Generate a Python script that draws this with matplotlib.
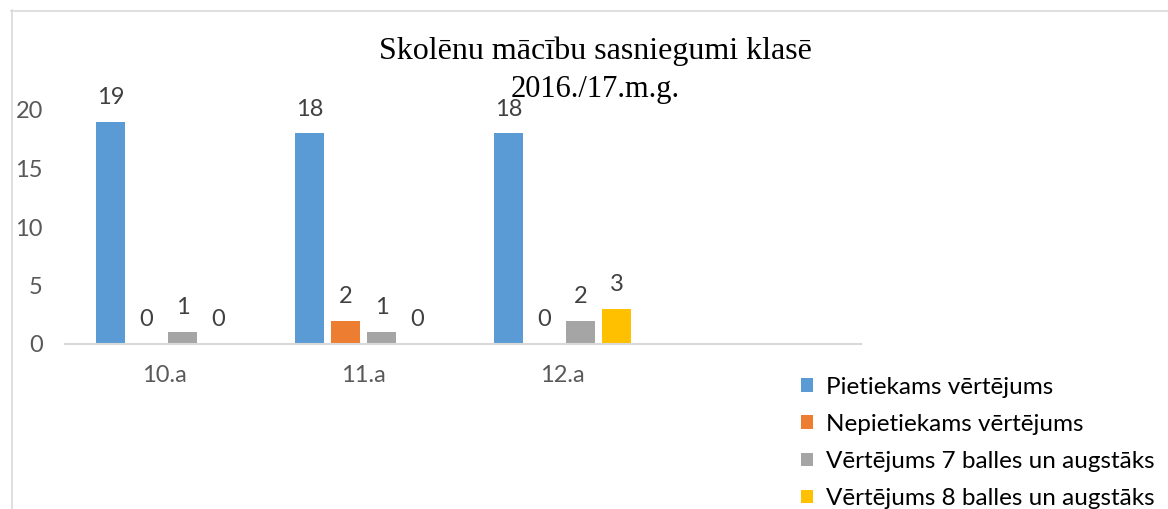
import matplotlib
matplotlib.use("Agg")
import matplotlib.pyplot as plt
from matplotlib.lines import Line2D
import numpy as np

categories = ["10.a", "11.a", "12.a", ""]
series_names = ["Pietiekams vērtējums", "Nepietiekams vērtējums",
                "Vērtējums 7 balles un augstāks", "Vērtējums 8 balles un augstāks"]
pietiekams = [19, 18, 18]
nepietiekams = [0, 2, 0]
vert7 = [1, 1, 2]
vert8 = [0, 0, 3]
colors = ["#5B9BD5", "#ED7D31", "#A5A5A5", "#FFC000"]
y_ticks = [0, 5, 10, 15, 20]
title_line1 = "Skolēnu mācību sasniegumi klasē"
title_line2 = "2016./17.m.g."

W, H = 1168, 509
fig = plt.figure(figsize=(W / 100, H / 100), dpi=100)
fig.patch.set_facecolor("white")

def fx(px):
    return px / W

def fy(py):
    return 1 - py / H

ax = fig.add_axes([fx(65), fy(344), fx(861) - fx(65), fy(110) - fy(344)])

sans = ["Lato", "DejaVu Sans"]
series = [pietiekams, nepietiekams, vert7, vert8]
slot = 0.181
bw = 0.146
x = np.arange(len(pietiekams))
handles = []
for i, (vals, col, name) in enumerate(zip(series, colors, series_names)):
    bars = ax.bar(x + (i - 1.5) * slot, vals, width=bw, color=col, label=name, zorder=2)
    ax.bar_label(bars, labels=[str(v) for v in vals], padding=10,
                 fontsize=17, color="#404040", family=sans)
    handles.append(bars)

ax.set_xlim(-0.5, 3.5)
ax.set_ylim(0, 20)
ax.set_xticks(range(len(categories)))
ax.set_xticklabels(categories)
ax.set_yticks(y_ticks)
for spine in ["top", "right", "left"]:
    ax.spines[spine].set_visible(False)
ax.spines["bottom"].set_color("#D9D9D9")
ax.spines["bottom"].set_linewidth(1.5)
ax.tick_params(axis="both", length=0, labelsize=17, labelcolor="#595959")
ax.tick_params(axis="y", pad=16)
ax.tick_params(axis="x", pad=15)
for lab in ax.get_xticklabels() + ax.get_yticklabels():
    lab.set_family(sans)

fig.text(fx(595), fy(59), title_line1, ha="center", va="baseline",
         fontsize=23, family="Liberation Serif", color="black")
fig.text(fx(595), fy(97), title_line2, ha="center", va="baseline",
         fontsize=22, family="Liberation Serif", color="black")

leg = fig.legend(handles=handles, labels=series_names, loc="upper left",
                 bbox_to_anchor=(fx(801), fy(377)), frameon=False,
                 prop={"family": sans, "size": 17.5},
                 handlelength=0.5, handleheight=0.5, handletextpad=0.53,
                 labelspacing=0.66, borderaxespad=0, borderpad=0)
for t in leg.get_texts():
    t.set_color("black")

fig.add_artist(Line2D([fx(11.5), fx(11.5)], [fy(10), fy(H + 5)], color="#D9D9D9", lw=1.2))
fig.add_artist(Line2D([fx(11), fx(W + 5)], [fy(10.5), fy(10.5)], color="#D9D9D9", lw=1.2))

fig.savefig("out.png", dpi=100)
